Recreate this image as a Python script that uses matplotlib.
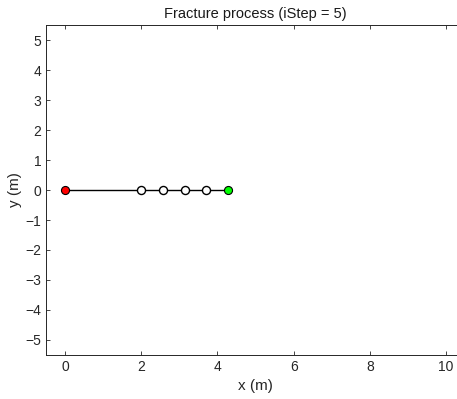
import matplotlib.pyplot as plt

plt.rcParams['font.family'] = ['Liberation Sans', 'DejaVu Sans']

# crack path nodes (m)
x_nodes = [0.0, 2.0, 2.57, 3.14, 3.70, 4.28]
y_nodes = [0.0, 0.0, 0.0, 0.0, 0.0, 0.0]

x_ticks = [0, 2, 4, 6, 8, 10]
y_ticks = [-5, -4, -3, -2, -1, 0, 1, 2, 3, 4, 5]

fig = plt.figure(figsize=(4.57, 3.99), dpi=100)
ax = fig.add_axes([0.1007, 0.1103, 0.917, 0.827])

ax.plot(x_nodes, y_nodes, 'k-', lw=1.0, zorder=1)
ax.plot(x_nodes[1:-1], y_nodes[1:-1], 'o', mfc='white', mec='k', ms=5.8, mew=1.0, zorder=2)
ax.plot(x_nodes[0], y_nodes[0], 'o', mfc='red', mec='k', ms=5.8, mew=0.8, zorder=3)
ax.plot(x_nodes[-1], y_nodes[-1], 'o', mfc='#00ff00', mec='k', ms=5.8, mew=0.8, zorder=3)

ax.set_xlim(-0.5, 10.5)
ax.set_ylim(-5.5, 5.5)
ax.set_xticks(x_ticks)
ax.set_yticks(y_ticks)
ax.tick_params(direction='in', top=True, right=True, length=3, width=0.6,
               colors='#262626', labelsize=10, labelcolor='#262626')
for s in ax.spines.values():
    s.set_color('#262626')
    s.set_linewidth(0.7)

ax.set_xlabel('x (m)', fontsize=11, color='#262626')
ax.set_ylabel('y (m)', fontsize=11, color='#262626', labelpad=2)
ax.set_title('Fracture process (iStep = 5)', fontsize=10.5, color='#1a1a1a', pad=5)

fig.savefig('out.png', dpi=100)
